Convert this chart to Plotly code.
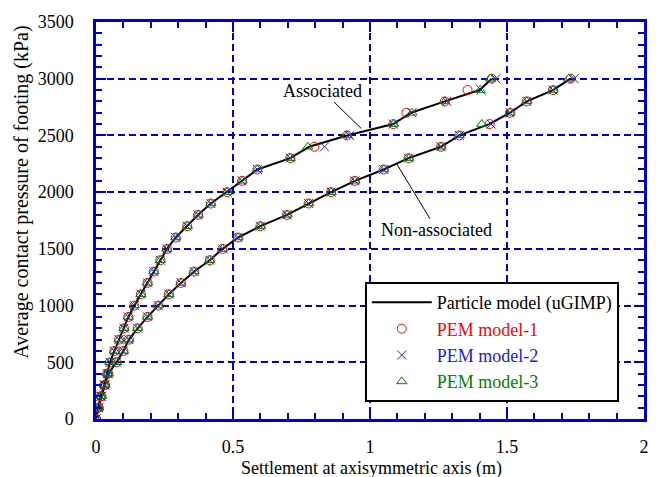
import plotly.graph_objects as go

# ---- data ----
pressure = [0, 100, 200, 300, 400, 500, 600, 700, 800, 900, 1000, 1100, 1200, 1300, 1400,
            1500, 1600, 1700, 1800, 1900, 2000, 2100, 2200, 2300, 2400, 2500, 2600, 2700,
            2800, 2900, 3000]

# Associated flow rule
assoc_particle = [0, 0.008, 0.017, 0.030, 0.041, 0.051, 0.067, 0.084, 0.102, 0.118, 0.140,
                  0.164, 0.188, 0.211, 0.235, 0.259, 0.291, 0.333, 0.373, 0.419, 0.478,
                  0.533, 0.589, 0.709, 0.778, 0.916, 1.085, 1.150, 1.273, 1.400, 1.444]
assoc_pem1 = [0, 0.008, 0.017, 0.030, 0.041, 0.051, 0.067, 0.084, 0.102, 0.118, 0.140,
              0.164, 0.188, 0.211, 0.235, 0.259, 0.291, 0.333, 0.373, 0.419, 0.478,
              0.533, 0.589, 0.709, 0.797, 0.916, 1.085, 1.133, 1.273, 1.356, 1.444]
assoc_pem2 = [0, 0.008, 0.017, 0.030, 0.041, 0.051, 0.067, 0.084, 0.102, 0.118, 0.140,
              0.164, 0.188, 0.211, 0.235, 0.259, 0.291, 0.333, 0.373, 0.419, 0.478,
              0.533, 0.589, 0.709, 0.834, 0.925, 1.085, 1.153, 1.280, 1.405, 1.459]
assoc_pem3 = [0, 0.008, 0.017, 0.030, 0.041, 0.051, 0.067, 0.084, 0.102, 0.118, 0.140,
              0.164, 0.188, 0.211, 0.235, 0.259, 0.291, 0.333, 0.373, 0.419, 0.478,
              0.533, 0.589, 0.709, 0.773, 0.916, 1.085, 1.153, 1.273, 1.402, 1.440]

# Non-associated flow rule
nonassoc_particle = [0, 0.010, 0.020, 0.033, 0.045, 0.075, 0.100, 0.120, 0.152, 0.188, 0.227,
                     0.266, 0.310, 0.358, 0.415, 0.462, 0.518, 0.600, 0.697, 0.776, 0.858,
                     0.945, 1.050, 1.141, 1.259, 1.326, 1.435, 1.511, 1.572, 1.668, 1.732]
nonassoc_pem1 = [0, 0.010, 0.020, 0.033, 0.045, 0.075, 0.100, 0.120, 0.152, 0.188, 0.227,
                 0.266, 0.310, 0.358, 0.415, 0.462, 0.518, 0.600, 0.697, 0.776, 0.858,
                 0.945, 1.050, 1.141, 1.259, 1.326, 1.437, 1.511, 1.572, 1.668, 1.732]
nonassoc_pem2 = [0, 0.010, 0.020, 0.033, 0.045, 0.075, 0.100, 0.120, 0.152, 0.188, 0.227,
                 0.266, 0.310, 0.358, 0.415, 0.462, 0.518, 0.600, 0.697, 0.776, 0.858,
                 0.945, 1.050, 1.141, 1.259, 1.326, 1.442, 1.511, 1.572, 1.668, 1.745]
nonassoc_pem3 = [0, 0.010, 0.020, 0.033, 0.045, 0.075, 0.100, 0.120, 0.152, 0.188, 0.227,
                 0.266, 0.310, 0.358, 0.415, 0.462, 0.518, 0.600, 0.697, 0.776, 0.858,
                 0.945, 1.050, 1.141, 1.259, 1.326, 1.408, 1.511, 1.572, 1.668, 1.725]

x_ticks = [0, 0.5, 1, 1.5, 2]
y_ticks = [0, 500, 1000, 1500, 2000, 2500, 3000, 3500]

FONT = "Liberation Serif"
AX = "#0000CC"

fig = go.Figure()

marker_specs = [
    ("PEM model-1", "red", "circle-open", assoc_pem1, nonassoc_pem1),
    ("PEM model-2", "#2020DD", "x-thin-open", assoc_pem2, nonassoc_pem2),
    ("PEM model-3", "green", "triangle-up-open", assoc_pem3, nonassoc_pem3),
]

# particle model lines
fig.add_trace(go.Scatter(x=assoc_particle, y=pressure, mode="lines",
                         line=dict(color="black", width=2),
                         name="Particle model (uGIMP)", legendgroup="p"))
fig.add_trace(go.Scatter(x=nonassoc_particle, y=pressure, mode="lines",
                         line=dict(color="black", width=2),
                         name="Particle model (uGIMP)", legendgroup="p", showlegend=False))

for name, col, sym, a, n in marker_specs:
    fig.add_trace(go.Scatter(x=a, y=pressure, mode="markers",
                             marker=dict(symbol=sym, size=9, color=col,
                                         line=dict(color=col, width=1)),
                             name=f"<span style='color:{col}'>{name}</span>",
                             legendgroup=name))
    fig.add_trace(go.Scatter(x=n, y=pressure, mode="markers",
                             marker=dict(symbol=sym, size=9, color=col,
                                         line=dict(color=col, width=1)),
                             name=name, legendgroup=name, showlegend=False))

axis_common = dict(
    showline=True, linecolor=AX, linewidth=2.5, mirror="ticks",
    ticks="inside", ticklen=10, tickwidth=2, tickcolor=AX,
    showgrid=True, gridcolor=AX, gridwidth=2, griddash="7px,4px",
    zeroline=False,
    tickfont=dict(family=FONT, size=18, color="black"),
)

fig.update_xaxes(range=[0, 2], tickvals=x_ticks, ticktext=[str(v) for v in x_ticks],
                 minor=dict(dtick=0.1, ticks="inside", ticklen=6, tickwidth=2,
                            tickcolor=AX, showgrid=False),
                 ticklabelstandoff=10,
                 **axis_common)
fig.update_yaxes(range=[0, 3500], tickvals=y_ticks,
                 minor=dict(dtick=100, ticks="inside", ticklen=6, tickwidth=2,
                            tickcolor=AX, showgrid=False),
                 ticklabelstandoff=16,
                 **axis_common)

fig.add_annotation(text="Settlement at axisymmetric axis (m)", xref="paper", yref="paper",
                   x=0.503, y=-0.125, showarrow=False, xanchor="center", yanchor="middle",
                   font=dict(family=FONT, size=18, color="black"))
fig.add_annotation(text="Average contact pressure of footing (kPa)", xref="paper", yref="paper",
                   x=-0.135, y=0.57, showarrow=False, textangle=-90,
                   xanchor="center", yanchor="middle",
                   font=dict(family=FONT, size=20, color="black"))

fig.add_annotation(text="Associated", x=0.968, y=2561, ax=-39, ay=-38,
                   showarrow=True, arrowhead=0, arrowwidth=1, arrowcolor="black",
                   font=dict(family=FONT, size=18, color="black"))
fig.add_annotation(text="Non-associated", x=1.098, y=2247, ax=40, ay=66,
                   showarrow=True, arrowhead=0, arrowwidth=1, arrowcolor="black",
                   font=dict(family=FONT, size=18, color="black"))

fig.update_layout(
    width=661, height=477,
    margin=dict(l=96, r=16, t=17, b=58),
    plot_bgcolor="white", paper_bgcolor="white",
    font=dict(family=FONT, size=18, color="black"),
    legend=dict(x=0.954, y=0.345, xanchor="right", yanchor="top",
                bgcolor="white", bordercolor="black", borderwidth=2,
                font=dict(family=FONT, size=18, color="black"),
                tracegroupgap=0, itemwidth=60),
    showlegend=True,
)

fig.write_html("out.html")
